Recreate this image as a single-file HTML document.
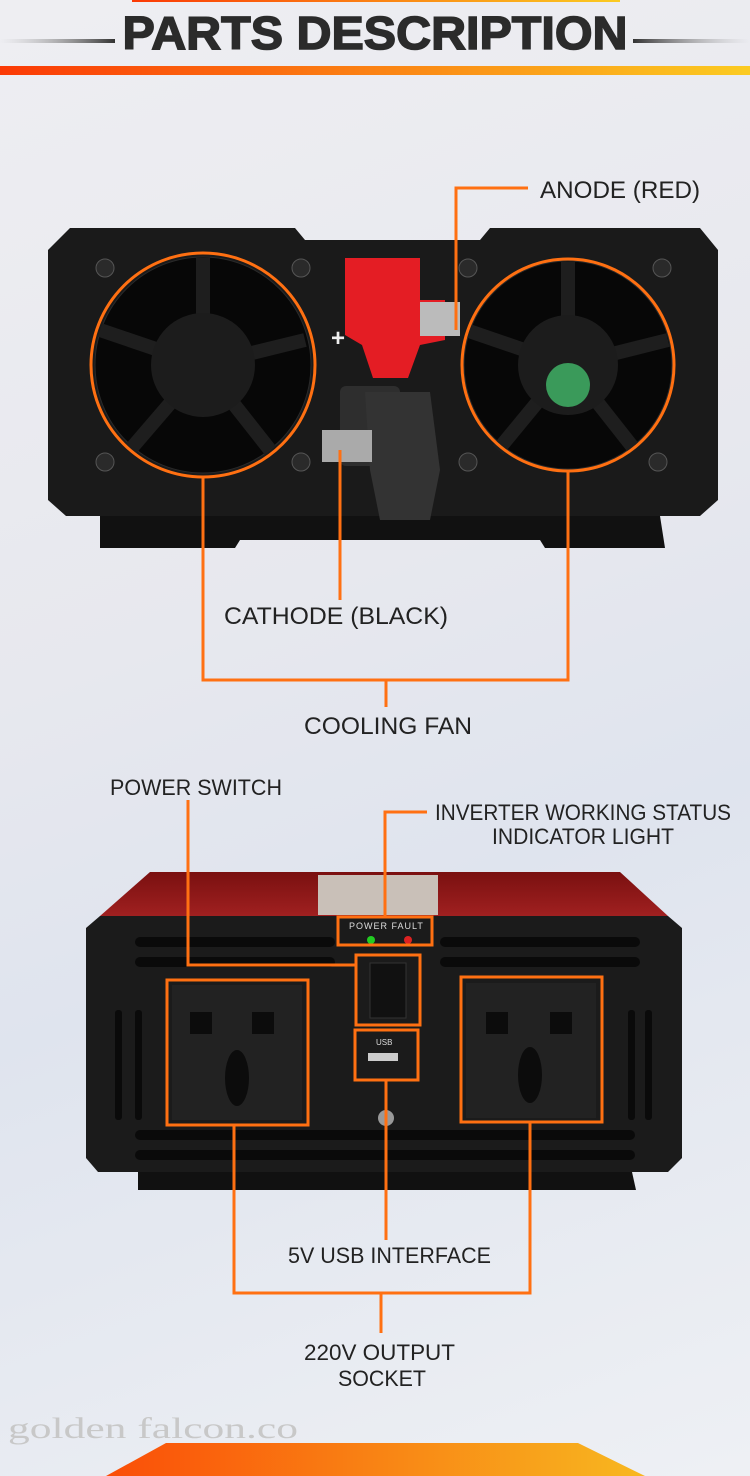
<!DOCTYPE html>
<html><head><meta charset="utf-8"><style>
html,body{margin:0;padding:0}
body{width:750px;height:1476px;overflow:hidden;background:linear-gradient(160deg,#eeeef2 0%,#e7e8ee 40%,#dfe4ee 60%,#eef0f4 100%);font-family:"Liberation Sans",sans-serif}
svg{display:block}
</style></head><body>
<svg width="750" height="1476" viewBox="0 0 750 1476" xmlns="http://www.w3.org/2000/svg">
<defs>
<linearGradient id="og" x1="0" x2="1"><stop offset="0" stop-color="#fb3a06"/><stop offset="1" stop-color="#fbcb22"/></linearGradient>
<linearGradient id="og2" x1="0" x2="1"><stop offset="0" stop-color="#fa4e08"/><stop offset="1" stop-color="#f8b820"/></linearGradient>
<linearGradient id="ll" x1="0" x2="1"><stop offset="0" stop-color="#aaa" stop-opacity="0"/><stop offset="1" stop-color="#333"/></linearGradient>
<linearGradient id="lr" x1="0" x2="1"><stop offset="0" stop-color="#333"/><stop offset="1" stop-color="#aaa" stop-opacity="0"/></linearGradient>
<linearGradient id="red" x1="0" x2="0" y1="0" y2="1"><stop offset="0" stop-color="#7a1010"/><stop offset="1" stop-color="#a02020"/></linearGradient>
</defs>
<rect x="132" y="0" width="488" height="2" fill="url(#og)"/>
<rect x="0" y="39" width="115" height="4" fill="url(#ll)"/>
<rect x="633" y="39" width="117" height="4" fill="url(#lr)"/>
<text x="375" y="49" text-anchor="middle" font-family="Liberation Sans" font-weight="bold" font-size="46" fill="#2b2b2b" stroke="#2b2b2b" stroke-width="1.5" textLength="505" lengthAdjust="spacingAndGlyphs">PARTS DESCRIPTION</text>
<rect x="0" y="66" width="750" height="9" fill="url(#og)"/>

<path d="M70 228 L295 228 L305 240 L480 240 L490 228 L700 228 L718 250 L718 500 L700 516 L66 516 L48 500 L48 250 Z" fill="#1a1a1a"/>
<path d="M100 516 L660 516 L665 548 L545 548 L540 540 L240 540 L235 548 L100 548 Z" fill="#111"/>
<g fill="#070707" stroke="#2a2a2a" stroke-width="1">
<circle cx="203" cy="365" r="108"/><circle cx="568" cy="365" r="104"/>
</g>
<g stroke="#1e1e1e" stroke-width="14">
<line x1="203" y1="365" x2="203" y2="258"/><line x1="203" y1="365" x2="305" y2="340"/><line x1="203" y1="365" x2="270" y2="450"/><line x1="203" y1="365" x2="130" y2="450"/><line x1="203" y1="365" x2="100" y2="330"/>
<line x1="568" y1="365" x2="568" y2="262"/><line x1="568" y1="365" x2="668" y2="340"/><line x1="568" y1="365" x2="635" y2="450"/><line x1="568" y1="365" x2="498" y2="450"/><line x1="568" y1="365" x2="466" y2="330"/>
</g>
<circle cx="203" cy="365" r="52" fill="#1c1c1c"/>
<circle cx="568" cy="365" r="50" fill="#1c1c1c"/>
<circle cx="568" cy="385" r="22" fill="#3a9a5a"/>
<g fill="#2a2a2a" stroke="#555"><circle cx="105" cy="268" r="9"/><circle cx="301" cy="268" r="9"/><circle cx="105" cy="462" r="9"/><circle cx="301" cy="462" r="9"/><circle cx="468" cy="268" r="9"/><circle cx="662" cy="268" r="9"/><circle cx="468" cy="462" r="9"/><circle cx="658" cy="462" r="9"/></g>
<text x="338" y="346" text-anchor="middle" font-size="24" font-weight="bold" fill="#eee">+</text>
<path d="M345 258 L420 258 L420 300 L445 300 L445 340 L420 345 L408 378 L373 378 L362 345 L345 335 Z" fill="#e41d24"/>
<rect x="420" y="302" width="40" height="34" fill="#bbb"/>
<rect x="340" y="386" width="60" height="80" rx="6" fill="#2e2e2e"/>
<path d="M365 392 L430 392 L440 470 L430 520 L380 520 L370 470 Z" fill="#333"/>
<rect x="322" y="430" width="50" height="32" fill="#aaa"/>
<g fill="none" stroke="#ff7012" stroke-width="3">
<circle cx="203" cy="365" r="112"/><circle cx="568" cy="365" r="106"/>
<polyline points="456,330 456,188 528,188"/>
<line x1="340" y1="450" x2="340" y2="600"/>
<polyline points="203,477 203,680 568,680 568,471"/>
<line x1="386" y1="680" x2="386" y2="707"/>
</g>
<g font-size="24" fill="#222">
<text x="540" y="198" textLength="160" lengthAdjust="spacingAndGlyphs">ANODE (RED)</text>
<text x="224" y="624" textLength="224" lengthAdjust="spacingAndGlyphs">CATHODE (BLACK)</text>
<text x="304" y="734" textLength="168" lengthAdjust="spacingAndGlyphs">COOLING FAN</text>
</g>

<path d="M150 872 L620 872 L668 916 L100 916 Z" fill="url(#red)"/>
<rect x="318" y="875" width="120" height="40" fill="#c9c0b8"/>
<path d="M100 916 L668 916 L682 928 L682 1158 L668 1172 L98 1172 L86 1158 L86 928 Z" fill="#1b1b1b"/>
<path d="M138 1172 L632 1172 L636 1190 L138 1190 Z" fill="#111"/>
<g fill="#0a0a0a">
<rect x="135" y="937" width="200" height="10" rx="5"/><rect x="440" y="937" width="200" height="10" rx="5"/>
<rect x="135" y="957" width="200" height="10" rx="5"/><rect x="440" y="957" width="200" height="10" rx="5"/>
<rect x="135" y="1130" width="500" height="10" rx="5"/><rect x="135" y="1150" width="500" height="10" rx="5"/>
<rect x="115" y="1010" width="7" height="110" rx="3"/><rect x="135" y="1010" width="7" height="110" rx="3"/>
<rect x="628" y="1010" width="7" height="110" rx="3"/><rect x="645" y="1010" width="7" height="110" rx="3"/>
</g>
<rect x="172" y="985" width="130" height="135" fill="#222"/>
<rect x="466" y="983" width="130" height="135" fill="#222"/>
<g fill="#0c0c0c">
<rect x="190" y="1012" width="22" height="22"/><rect x="252" y="1012" width="22" height="22"/><ellipse cx="237" cy="1078" rx="12" ry="28"/>
<rect x="486" y="1012" width="22" height="22"/><rect x="550" y="1012" width="22" height="22"/><ellipse cx="530" cy="1075" rx="12" ry="28"/>
</g>
<rect x="370" y="963" width="36" height="55" fill="#111" stroke="#333"/>
<circle cx="371" cy="940" r="4" fill="#2c2"/><circle cx="408" cy="940" r="4" fill="#d22"/>
<text x="349" y="929" font-size="9" fill="#ddd" letter-spacing="1">POWER FAULT</text>
<text x="376" y="1045" font-size="8" fill="#ddd">USB</text>
<rect x="368" y="1053" width="30" height="8" fill="#ccc"/>
<circle cx="386" cy="1118" r="8" fill="#999"/>
<g fill="none" stroke="#ff7012" stroke-width="3">
<rect x="338" y="917" width="94" height="28"/>
<rect x="356" y="955" width="64" height="70"/>
<rect x="355" y="1030" width="63" height="50"/>
<rect x="167" y="980" width="141" height="145"/>
<rect x="461" y="977" width="141" height="145"/>
<polyline points="188,800 188,965 356,965"/>
<polyline points="385,917 385,812 427,812"/>
<line x1="386" y1="1080" x2="386" y2="1240"/>
<polyline points="234,1125 234,1293 530,1293 530,1122"/>
<line x1="381" y1="1293" x2="381" y2="1333"/>
</g>
<g font-size="22" fill="#222">
<text x="110" y="795" textLength="172" lengthAdjust="spacingAndGlyphs">POWER SWITCH</text>
<text x="435" y="820" textLength="296" lengthAdjust="spacingAndGlyphs">INVERTER WORKING STATUS</text>
<text x="492" y="844" textLength="182" lengthAdjust="spacingAndGlyphs">INDICATOR LIGHT</text>
<text x="288" y="1263" textLength="203" lengthAdjust="spacingAndGlyphs">5V USB INTERFACE</text>
<text x="304" y="1360" textLength="151" lengthAdjust="spacingAndGlyphs">220V OUTPUT</text>
<text x="338" y="1386" textLength="88" lengthAdjust="spacingAndGlyphs">SOCKET</text>
</g>

<text x="8" y="1438" font-family="Liberation Serif" font-size="30" fill="#c8c8c8" textLength="290" lengthAdjust="spacingAndGlyphs">golden falcon.co</text>
<path d="M106 1476 L166 1443 L578 1443 L645 1476 Z" fill="url(#og2)"/>
</svg>
</body></html>
